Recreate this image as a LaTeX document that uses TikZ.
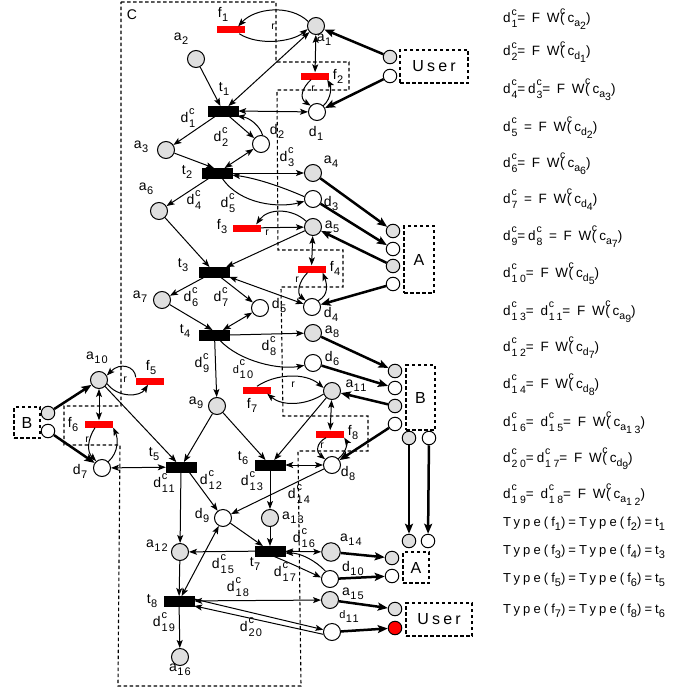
\documentclass[tikz,border=0pt]{standalone}
\usepackage{fontspec}
\setmainfont{Liberation Sans}
\newfontfamily\spacedfam{Liberation Sans}[LetterSpace=20]
\newfontfamily\scrfam{Liberation Sans}[LetterSpace=12]
\newfontfamily\legfam{Liberation Sans}[LetterSpace=22]
\newfontfamily\legscrfam{Liberation Sans}[LetterSpace=26]
\newfontfamily\typefam{Liberation Sans}[LetterSpace=24]
\usetikzlibrary{arrows.meta,calc}
\newcommand\scrsize{11}
\newcommand\curscrfam{\scrfam}
\newcommand\scr{\curscrfam\fontsize{\scrsize}{\scrsize}\selectfont}
\newcommand\plab[2]{#1\kern0.4pt\raisebox{-4pt}{\scr #2}}
\newcommand\dcl[1]{d\kern0.8pt\makebox[0pt][l]{\raisebox{7.5pt}{\scr c}}\raisebox{-5pt}{\scr #1}}
\newcommand\fwc[2]{F W\kern0.5pt\makebox[0pt][l]{\raisebox{8.5pt}{\scr c}}(c\raisebox{-4pt}{\scr #1\raisebox{-3pt}{#2}})}
\newcommand\tsub[1]{\raisebox{-4pt}{\scr #1}}
\begin{document}
\begin{tikzpicture}[x=1pt,y=-1pt,font=\fontsize{14}{15}\selectfont,
  >={Stealth[length=8pt,width=6pt,inset=1.8pt]},
  place/.style={circle,draw,line width=1pt,minimum size=17pt,inner sep=0pt},
  gp/.style={place,fill=gray!25},
  wp/.style={place,fill=white},
  port/.style={circle,draw,line width=1pt,minimum size=13.5pt,inner sep=0pt},
  gport/.style={port,fill=gray!25},
  wport/.style={port,fill=white},
  rport/.style={port,fill=red},
  trans/.style={draw,fill=black,minimum width=30pt,minimum height=9.5pt,inner sep=0pt},
  fbar/.style={fill=red,minimum width=28pt,minimum height=7pt,inner sep=0pt},
  dline/.style={line width=1.1pt,dash pattern=on 3.5pt off 2.5pt},
  dbox/.style={dline,draw,inner sep=0pt,font=\spacedfam\fontsize{16}{17}\selectfont},
  arc/.style={->,line width=1pt},
  darc/.style={<->,line width=1pt},
  tarc/.style={-{Stealth[length=10pt,width=8pt,inset=2pt]},line width=2.5pt},
  lbl/.style={inner sep=0pt},
  rl/.style={inner sep=0pt,font=\fontsize{10.5}{11}\selectfont},
  leg/.style={anchor=base west,inner sep=0pt,font=\legfam\fontsize{13.5}{14}\selectfont\def\scrsize{10.5}\def\curscrfam{\legscrfam}},
  typ/.style={anchor=base west,inner sep=0pt,font=\typefam\fontsize{13}{14}\selectfont\def\scrsize{11}}]
\useasboundingbox (0,0) rectangle (691,693);

% region C
\draw[dline] (121,2) -- (276,2) -- (276,62) -- (349,62) -- (349,90) -- (277,90) -- (278,250) -- (343,250) -- (343,287) -- (281,287) -- (283,416) -- (368,416) -- (368,451) -- (298,451) -- (301,686) -- (118,686) -- (120,445) -- (64,445) -- (64,406) -- (121,406) -- cycle;
\node[lbl] (lC) at (132,15) {C};

% places
\node[gp] (a1) at (316,26) {};
\node[gp] (a2) at (196,59) {};
\node[wp] (d1) at (317,112) {};
\node[wp] (d2) at (261,144) {};
\node[gp] (a3) at (166,150) {};
\node[gp] (a4) at (313,173) {};
\node[wp] (d3) at (313,199) {};
\node[gp] (a5) at (313,227) {};
\node[gp] (a6) at (159,211) {};
\node[wp] (d4) at (312,307) {};
\node[wp] (d5) at (260,308) {};
\node[gp] (a7) at (162,300) {};
\node[gp] (a8) at (313,333) {};
\node[wp] (d6) at (313,363) {};
\node[gp] (a9) at (217,406) {};
\node[gp] (a10) at (99,380) {};
\node[wp] (d7) at (102,468) {};
\node[gp] (a11) at (332,391) {};
\node[wp] (d8) at (332,465) {};
\node[wp] (d9) at (223,518) {};
\node[gp] (a13) at (270,518) {};
\node[gp] (a12) at (180,552) {};
\node[gp,minimum size=18.5pt] (a14) at (331,552) {};
\node[wp] (d10) at (330,579) {};
\node[gp] (a15) at (330,600) {};
\node[wp] (d11) at (332,632) {};
\node[gp] (a16) at (180,657) {};

% transitions
\node[trans] (t1) at (223,111) {};
\node[trans] (t2) at (217,173) {};
\node[trans] (t3) at (214,272) {};
\node[trans] (t4) at (214.5,335) {};
\node[trans] (t5) at (181,467) {};
\node[trans] (t6) at (270,465) {};
\node[trans] (t7) at (270,551) {};
\node[trans] (t8) at (179,601) {};

% red bars
\node[fbar] (f1) at (231,30) {};
\node[fbar] (f2) at (315,76) {};
\node[fbar] (f3) at (247,228) {};
\node[fbar] (f4) at (311.5,269) {};
\node[fbar] (f5) at (150,381) {};
\node[fbar] (f6) at (99,424) {};
\node[fbar] (f7) at (257,390) {};
\node[fbar] (f8) at (330,434) {};

% boxes and ports
\node[dbox,minimum width=68pt,minimum height=33pt] (U1) at (434,66.5) {User};
\node[gport] (uG1) at (390,57) {};
\node[wport] (uW1) at (390,76) {};
\node[dbox,minimum width=30pt,minimum height=67pt] (A1) at (419,259.5) {A};
\node[gport] (AG1) at (393,231) {};
\node[wport] (AW1) at (393,249) {};
\node[gport] (AG2) at (393,266) {};
\node[wport] (AW2) at (393,284) {};
\node[dbox,minimum width=29pt,minimum height=65pt] (B1) at (420.5,397.5) {B};
\node[gport] (BG1) at (395,371) {};
\node[wport] (BW1) at (395,388) {};
\node[gport] (BG2) at (395,406) {};
\node[wport] (BW2) at (395,424) {};
\node[gport] (BbG) at (409,438) {};
\node[wport] (BbW) at (429,438) {};
\node[dbox,minimum width=26pt,minimum height=31pt] (B2) at (27,422.5) {B};
\node[gport] (BlG) at (48,413) {};
\node[wport] (BlW) at (48,431) {};
\node[dbox,minimum width=26pt,minimum height=31pt] (A2) at (416,567.5) {A};
\node[gport] (AtG) at (409,541) {};
\node[wport] (AtW) at (428,541) {};
\node[gport] (AlG) at (392,558) {};
\node[wport] (AlW) at (392,576) {};
\node[dbox,minimum width=66pt,minimum height=33pt] (U2) at (439,619.5) {User};
\node[gport] (ulG) at (395,609) {};
\node[rport] (ulR) at (395,628) {};

% labels
\node[lbl] (la1) at (324,40) {\plab{a}{1}};
\node[lbl] (la2) at (181,39) {\plab{a}{2}};
\node[lbl] (lt1) at (224,89) {\plab{t}{1}};
\node[lbl] (ld1) at (316,133) {\plab{d}{1}};
\node[lbl] (lf1) at (223,14) {\plab{f}{1}};
\node[lbl] (lf2) at (338,76) {\plab{f}{2}};
\node[lbl] (la3) at (141,147) {\plab{a}{3}};
\node[lbl] (ld2) at (277,131) {\plab{d}{2}};
\node[lbl] (lc1) at (188,118) {\dcl{1}};
\node[lbl] (lc2) at (221,137) {\dcl{2}};
\node[lbl] (lc3) at (287,157) {\dcl{3}};
\node[lbl] (lt2) at (187,172) {\plab{t}{2}};
\node[lbl] (la4) at (331,162) {\plab{a}{4}};
\node[lbl] (ld3) at (331,203) {\plab{d}{3}};
\node[lbl] (la5) at (332,227) {\plab{a}{5}};
\node[lbl] (lf3) at (222,226) {\plab{f}{3}};
\node[lbl] (lf4) at (335,268) {\plab{f}{4}};
\node[lbl] (la6) at (146,189) {\plab{a}{6}};
\node[lbl] (lc4) at (194,200) {\dcl{4}};
\node[lbl] (lc5) at (228,203) {\dcl{5}};
\node[lbl] (lt3) at (183,265) {\plab{t}{3}};
\node[lbl] (la7) at (140,297) {\plab{a}{7}};
\node[lbl] (lc6) at (191,297) {\dcl{6}};
\node[lbl] (lc7) at (221,297) {\dcl{7}};
\node[lbl] (ld5) at (279,305) {\plab{d}{5}};
\node[lbl] (ld4) at (331,314) {\plab{d}{4}};
\node[lbl] (lt4) at (185,331) {\plab{t}{4}};
\node[lbl] (la8) at (332,332) {\plab{a}{8}};
\node[lbl] (ld6) at (332,358) {\plab{d}{6}};
\node[lbl] (lc8) at (269,346) {\dcl{8}};
\node[lbl] (lc9) at (202,363) {\dcl{9}};
\node[lbl,font=\fontsize{11}{12}\selectfont] (lc10) at (243,369) {\dcl{10}};
\node[lbl] (la9) at (196,403) {\plab{a}{9}};
\node[lbl] (la10) at (97,358) {\plab{a}{10}};
\node[lbl] (lf5) at (151,367) {\plab{f}{5}};
\node[lbl] (lf6) at (73,424) {\plab{f}{6}};
\node[lbl] (ld7) at (80,471) {\plab{d}{7}};
\node[lbl] (lt5) at (154,454) {\plab{t}{5}};
\node[lbl] (lc11) at (164,483) {\dcl{11}};
\node[lbl] (lc12) at (211,480) {\dcl{12}};
\node[lbl] (lt6) at (243,458) {\plab{t}{6}};
\node[lbl] (lc13) at (252,481) {\dcl{13}};
\node[lbl] (lf7) at (252,405) {\plab{f}{7}};
\node[lbl] (la11) at (356,386) {\plab{a}{11}};
\node[lbl] (lf8) at (353,432) {\plab{f}{8}};
\node[lbl] (ld8) at (348,473) {\plab{d}{8}};
\node[lbl] (lc14) at (299,494) {\dcl{14}};
\node[lbl] (ld9) at (202,515) {\plab{d}{9}};
\node[lbl] (la13) at (293,518) {\plab{a}{13}};
\node[lbl] (la12) at (157,546) {\plab{a}{12}};
\node[lbl] (lt7) at (255,564) {\plab{t}{7}};
\node[lbl] (lc15) at (223,564) {\dcl{15}};
\node[lbl] (lc16) at (304,538) {\dcl{16}};
\node[lbl] (lc17) at (285,572) {\dcl{17}};
\node[lbl] (la14) at (351,540) {\plab{a}{14}};
\node[lbl] (ld10) at (353,568) {\plab{d}{10}};
\node[lbl] (lt8) at (152,601) {\plab{t}{8}};
\node[lbl] (lc18) at (238,587) {\dcl{18}};
\node[lbl] (la15) at (353,594) {\plab{a}{15}};
\node[lbl,font=\fontsize{11}{12}\selectfont] (ld11) at (349,617) {\plab{d}{11}};
\node[lbl] (lc19) at (164,622) {\dcl{19}};
\node[lbl] (lc20) at (251,627) {\dcl{20}};
\node[lbl] (la16) at (180,670) {\plab{a}{16}};
\node[rl] (r1) at (273,27) {r};
\node[rl] (r2) at (313,89) {r};
\node[rl] (r3) at (267,233) {r};
\node[rl] (r4) at (297,280) {r};
\node[rl] (r5) at (125,380) {r};
\node[rl] (r6) at (87,440) {r};
\node[rl] (r7) at (293,385) {r};
\node[rl] (r8) at (322,446) {r};

% thin arcs
\draw[arc] (a1.150) .. controls (290,4) and (255,8) .. ([xshift=-7]f1.north east);
\draw[arc] ([xshift=-6]f1.south east) .. controls (258,46) and (292,42) .. (a1.200);
\draw[darc] (t1) -- (a1);
\draw[arc] (a2) -- (t1);
\draw[darc] (a1) -- (f2);
\draw[arc] ([xshift=-4]f2.south) .. controls (302,88) and (299,98) .. (d1.135);
\draw[arc] (d1.45) .. controls (332,98) and (331,86) .. ([xshift=-2]f2.south east);
\draw[darc] (t1.east) -- (d1);
\draw[arc] (t1) -- (a3);
\draw[arc] (t1) -- (d2);
\draw[arc] (d2.80) .. controls (260,126) and (250,118) .. ([xshift=-1]t1.south east);
\draw[arc] (a3) -- ([xshift=-3]t2.north);
\draw[darc] (d2) -- (t2);
\draw[arc] (t2.east) -- (a4);
\draw[arc] (d3.165) .. controls (280,186) and (255,178) .. ([yshift=-2]t2.east);
\draw[arc] ([xshift=5]t2.south) .. controls (240,205) and (280,208) .. (d3.195);
\draw[arc] (t2) -- (a6);
\draw[arc] (a5.140) .. controls (292,208) and (268,208) .. ([xshift=-5]f3.north east);
\draw[arc] (f3) -- (a5);
\draw[arc] (a5) -- ([xshift=-3]t3.north east);
\draw[arc] (a6) -- (t3);
\draw[darc] (a5) -- (f4);
\draw[arc] ([xshift=-4]f4.south) .. controls (298,282) and (297,294) .. (d4.135);
\draw[arc] (d4.45) .. controls (329,295) and (327,284) .. ([xshift=-3]f4.south east);
\draw[darc] (t3.south east) -- (d4);
\draw[arc] (t3) -- (a7);
\draw[arc] (t3) -- (d5);
\draw[arc] (a7) -- ([xshift=-2]t4.north);
\draw[darc] (d5) -- (t4);
\draw[arc] (t4.east) -- (a8);
\draw[arc] ([xshift=5]t4.south) .. controls (240,362) and (280,370) .. (d6.195);
\draw[arc] (t4) -- (a9);
\draw[arc] (f5.north west) .. controls (135,366) and (120,362) .. (a10.30);
\draw[arc] (a10.-25) .. controls (118,398) and (140,397) .. ([xshift=-2]f5.south);
\draw[darc] (a10) -- (f6);
\draw[arc] ([xshift=-4]f6.south) .. controls (87,440) and (87,452) .. (d7.130);
\draw[arc] (d7.45) .. controls (119,452) and (118,438) .. (f6.south east);
\draw[darc] (d7) -- (t5);
\draw[arc] (a10) -- (t5);
\draw[arc] (a9) -- (t5);
\draw[arc] (a9) -- (t6);
\draw[arc] (f7.north) .. controls (275,374) and (305,372) .. (a11.160);
\draw[arc] (a11.200) .. controls (305,406) and (282,406) .. ([xshift=-4]f7.south east);
\draw[darc] (a11) -- (f8);
\draw[arc] ([xshift=-4]f8.south) .. controls (316,443) and (316,452) .. (d8.140);
\draw[arc] (d8.45) .. controls (347,452) and (347,442) .. (f8.south east);
\draw[arc] (a11) -- (t6);
\draw[darc] (t6) -- (d8);
\draw[arc] (t5) -- (a12);
\draw[arc] ([xshift=8]t5.south) -- (d9);
\draw[arc] (t6) -- (a13);
\draw[arc] (d8) -- (d9);
\draw[arc] (a13) -- (t7);
\draw[arc] (d9) -- (t7);
\draw[arc] (t7) -- (a12);
\draw[darc] (d9) -- (t8);
\draw[arc] (a12) -- (t8);
\draw[darc] (t7) -- (a14);
\draw[arc] ([xshift=3]t7.south) .. controls (292,564) .. (d10.170);
\draw[arc] (d10.120) .. controls (315,560) and (300,553) .. ([yshift=-2]t7.east);
\draw[darc] (t8) -- (a15);
\draw[arc] ([yshift=2]t8.east) -- (d11.165);
\draw[arc] (d11.195) .. controls (262,620) .. (t8.south east);
\draw[arc] (t8) -- (a16);

% thick arcs
\draw[tarc] (uG1) -- (a1);
\draw[tarc] (uW1) -- (d1);
\draw[tarc] (a4) -- (AG1);
\draw[tarc] (d3) -- (AW1);
\draw[tarc] (AG2) -- (a5);
\draw[tarc] (AW2) -- (d4);
\draw[tarc] (a8) -- (BG1);
\draw[tarc] (d6) -- (BW1);
\draw[tarc] (BG2) -- (a11);
\draw[tarc] (BW2) -- (d8);
\draw[tarc] (BlG) -- (a10);
\draw[tarc] (BlW) -- (d7);
\draw[tarc] (BbG) -- (AtG);
\draw[tarc] (BbW) -- (AtW);
\draw[tarc] (a14) -- (AlG);
\draw[tarc] (d10) -- (AlW);
\draw[tarc] (a15) -- (ulG);
\draw[tarc] (d11) -- (ulR);

% legend
\node[leg] (g1) at (503,23) {\dcl{1}= \fwc{a}{2}};
\node[leg] (g2) at (503,56) {\dcl{2}= \fwc{d}{1}};
\node[leg] (g3) at (503,93) {\dcl{4}=\dcl{3}= \fwc{a}{3}};
\node[leg] (g4) at (503,131) {\dcl{5} = \fwc{d}{2}};
\node[leg] (g5) at (503,167) {\dcl{6}= \fwc{a}{6}};
\node[leg] (g6) at (503,203) {\dcl{7} = \fwc{d}{4}};
\node[leg] (g7) at (503,240) {\dcl{9}=\dcl{8} = \fwc{a}{7}};
\node[leg] (g8) at (503,277) {\dcl{10}= \fwc{d}{5}};
\node[leg] (g9) at (503,315) {\dcl{13}= \dcl{11}= \fwc{a}{9}};
\node[leg] (g10) at (503,351) {\dcl{12}= \fwc{d}{7}};
\node[leg] (g11) at (503,388) {\dcl{14}= \fwc{d}{8}};
\node[leg] (g12) at (503,426) {\dcl{16}= \dcl{15}= \fwc{a}{13}};
\node[leg] (g13) at (503,462) {\dcl{20}=\dcl{17}= \fwc{d}{9}};
\node[leg] (g14) at (503,498) {\dcl{19}= \dcl{18}= \fwc{a}{12}};
\node[typ] (y1) at (503,526) {Type(f\tsub{1})=Type(f\tsub{2})=t\tsub{1}};
\node[typ] (y2) at (503,554) {Type(f\tsub{3})=Type(f\tsub{4})=t\tsub{3}};
\node[typ] (y3) at (503,582) {Type(f\tsub{5})=Type(f\tsub{6})=t\tsub{5}};
\node[typ] (y4) at (503,613) {Type(f\tsub{7})=Type(f\tsub{8})=t\tsub{6}};
\end{tikzpicture}
\end{document}
